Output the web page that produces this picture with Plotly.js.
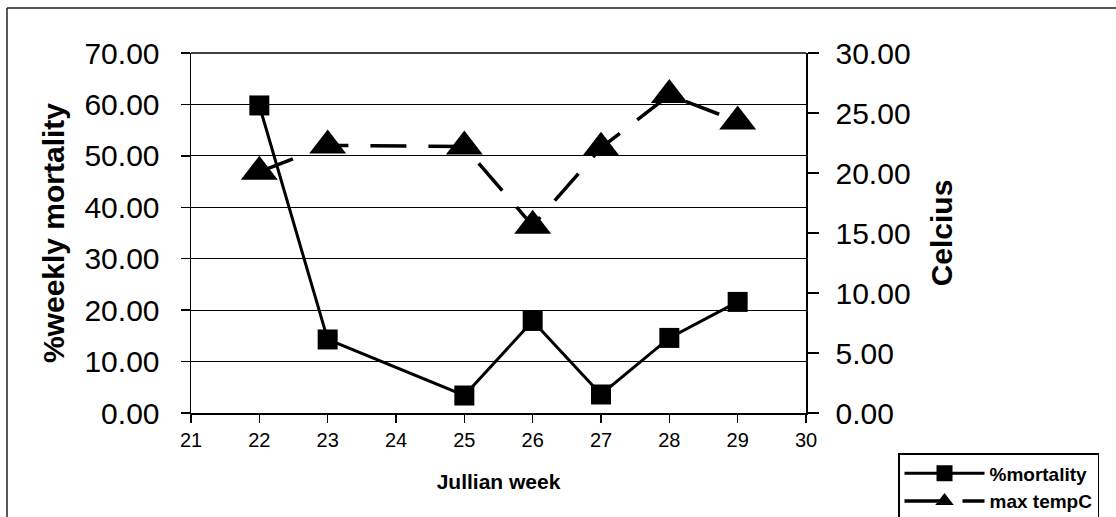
<!DOCTYPE html>
<html>
<head>
<meta charset="utf-8">
<script src="https://cdn.plot.ly/plotly-3.0.1.min.js"></script>
<style>
  html, body { margin: 0; padding: 0; background: #fff; }
  #chart { width: 1116px; height: 517px; }
</style>
</head>
<body>
<div id="chart"></div>
<script>
// Data
var weeks = [22, 23, 25, 26, 27, 28, 29];
var mortality = [59.8, 14.3, 3.4, 17.9, 3.6, 14.6, 21.6];
var maxTempC = [20.1, 22.3, 22.2, 15.6, 22.1, 26.5, 24.3];
var xTickVals = [21, 22, 23, 24, 25, 26, 27, 28, 29, 30];

var FONT = 'Liberation Sans, Arial, sans-serif';

var traces = [
  {
    x: weeks, y: mortality, name: '%mortality', type: 'scatter', mode: 'lines+markers',
    legendgroup: 'a',
    line: {color: '#000', width: 3},
    marker: {symbol: 'square', size: 20, color: '#000'},
    xaxis: 'x', yaxis: 'y'
  },
  {
    x: weeks, y: maxTempC, name: 'max tempC', type: 'scatter', mode: 'lines+markers',
    legendgroup: 'b',
    line: {color: '#000', width: 3.5, dash: '36px,22px'},
    marker: {symbol: 'triangle-up', size: 32, color: '#000'},
    xaxis: 'x', yaxis: 'y2'
  }
];

var L = 191, R = 806, T = 53, B = 413, W = 1116, H = 517;
function px(v) { return (v - L) / (R - L); }
function py(v) { return (B - v) / (B - T); }

var layout = {
  width: W, height: H,
  margin: {l: L, r: W - R, t: T, b: H - B, pad: 0, autoexpand: false},
  paper_bgcolor: '#fff', plot_bgcolor: '#fff',
  showlegend: true,
  font: {family: FONT, color: '#000'},
  xaxis: {
    range: [21, 30], tickvals: xTickVals, ticktext: xTickVals.map(String),
    showgrid: false, zeroline: false,
    showline: true, linecolor: '#000', linewidth: 1.5,
    ticks: 'outside', ticklen: 8, tickcolor: '#000', tickwidth: 1.5,
    tickfont: {family: FONT, size: 20, color: '#000'},
    title: {text: '<b>Jullian week</b>', font: {family: FONT, size: 21, color: '#000'}, standoff: 25},
    automargin: false, fixedrange: true
  },
  yaxis: {
    range: [0, 70], dtick: 10, tick0: 0, tickformat: '.2f',
    showgrid: true, gridcolor: '#000', gridwidth: 1.2,
    zeroline: false, showline: true, linecolor: '#000', linewidth: 1.5,
    ticks: 'outside', ticklen: 9, tickcolor: '#000', tickwidth: 1.5,
    ticklabelstandoff: 15,
    tickfont: {family: FONT, size: 30, color: '#000'},
    title: {text: '<b>%weekly mortality</b>', font: {family: FONT, size: 30, color: '#000'}, standoff: 11},
    automargin: false, fixedrange: true
  },
  yaxis2: {
    range: [0, 30], dtick: 5, tick0: 0, tickformat: '.2f',
    overlaying: 'y', side: 'right', anchor: 'x',
    showgrid: false, zeroline: false, showline: true, linecolor: '#000', linewidth: 1.5,
    ticks: 'outside', ticklen: 11, tickcolor: '#000', tickwidth: 1.5,
    ticklabelstandoff: 11,
    tickfont: {family: FONT, size: 30, color: '#000'},
    title: {text: '<b>Celcius</b>', font: {family: FONT, size: 30, color: '#000'}, standoff: 21},
    automargin: false, fixedrange: true
  },
  legend: {
    x: px(898), y: py(453), xanchor: 'left', yanchor: 'top',
    bgcolor: '#fff', bordercolor: '#000', borderwidth: 1.5,
    font: {family: FONT, size: 19, color: '#000', weight: 'bold'},
    itemwidth: 80, tracegroupgap: 2, traceorder: 'normal'
  },
  shapes: [
    {type: 'line', xref: 'paper', yref: 'paper', x0: 0, x1: 1, y0: 1, y1: 1,
     line: {color: '#000', width: 1.5}},
    {type: 'line', xref: 'paper', yref: 'paper', x0: px(7), x1: px(7), y0: py(8), y1: py(530),
     line: {color: '#222', width: 1.5}},
    {type: 'line', xref: 'paper', yref: 'paper', x0: px(7), x1: px(1125), y0: py(8), y1: py(8),
     line: {color: '#222', width: 1.5}}
  ]
};

Plotly.newPlot('chart', traces, layout, {displayModeBar: false, staticPlot: true});
</script>
</body>
</html>
